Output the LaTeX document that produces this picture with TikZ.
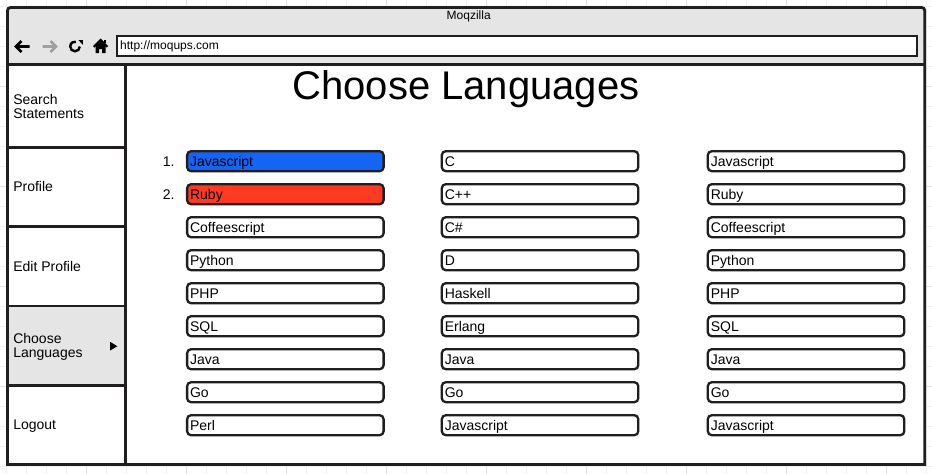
\documentclass[tikz,border=0pt]{standalone}
\usepackage{fontspec}
\setmainfont{Liberation Sans}
\usepackage{tikz}
\usetikzlibrary{arrows, positioning, calc}
\definecolor{MQgrey}{RGB}{229,229,229}
\definecolor{MQline}{RGB}{33,30,31}
\definecolor{MQblue}{RGB}{21,101,245}
\definecolor{MQred}{RGB}{255,58,34}
\definecolor{MQgrid}{RGB}{240,240,240}
\definecolor{MQgridmajor}{RGB}{226,226,226}
\definecolor{MQicon}{RGB}{160,160,160}
\newcommand{\rowgap}{33}
\newcommand{\firstrow}{161.2}
\newcommand{\fs}[1]{\fontsize{#1}{#1}\selectfont}
\tikzset{frame/.style={draw=MQline, line width=2.8pt}}
\tikzset{gridline/.style={MQgrid, line width=0.8pt}}
\tikzset{gridmajor/.style={MQgridmajor, line width=0.8pt}}
\tikzset{langbox/.style={rectangle, rounded corners=4pt, draw=MQline, line width=2.3pt, anchor=west, outer sep=0pt, text width=190.5pt, inner xsep=3pt, inner ysep=1pt, minimum height=20pt, text height=13pt, text depth=2pt, align=left, font=\fs{14}}}
\tikzset{numlabel/.style={inner sep=0pt, outer sep=0pt, font=\fs{14}}}
\tikzset{sideitem/.style={anchor=west, align=left, inner sep=0pt, outer sep=0pt, text depth=0pt, font=\fs{14}}}
\tikzset{urlbar/.style={rectangle, draw=MQline, fill=white, line width=2.4pt, anchor=west, outer sep=0pt, text width=793.5pt, inner xsep=3pt, inner ysep=1pt, minimum height=20pt, text height=9pt, text depth=2.5pt, align=left, font=\fs{12}}}
\tikzset{icon/.style={line width=2.8pt, line cap=butt, line join=miter}}

\begin{document}
\begin{tikzpicture}[x=1pt, y=-1pt, thick]
  \useasboundingbox (0,0) rectangle (932,474);

  % --- background grid ---
  \foreach \k in {6.7,26.7,...,926.7}
    \draw[gridline] (\k,0) -- (\k,474);
  \foreach \k in {6.7,26.7,...,466.7}
    \draw[gridline] (0,\k) -- (932,\k);
  \foreach \k in {86.7,186.7,...,886.7}
    \draw[gridmajor] (\k,0) -- (\k,474);
  \foreach \k in {86.7,186.7,...,386.7}
    \draw[gridmajor] (0,\k) -- (932,\k);

  % --- window ---
  \fill[white] (7.5,64.7) rectangle (924.7,464.5);
  \fill[MQgrey] (7.5,64.7) [rounded corners=3pt] -- (7.5,7.5) -- (924.7,7.5) [sharp corners] -- (924.7,64.7) -- cycle;
  \fill[MQgrey] (7.5,306) rectangle (125.2,385.8);
  \draw[frame] (7.5,464.5) [rounded corners=3pt] -- (7.5,7.5) -- (924.7,7.5) [sharp corners] -- (924.7,464.5) -- cycle;
  \draw[frame] (7.5,64.7) -- (924.7,64.7);

  \node[anchor=base, font=\fs{12}] (appname) at (468.7,19.3) {Moqzilla};

  % --- toolbar icons ---
  \draw[icon] (29.5,46.5) -- (16,46.5) (21.5,41) -- (16,46.5) -- (21.5,52);
  \draw[icon, MQicon] (42.5,46.5) -- (56,46.5) (50.5,41) -- (56,46.5) -- (50.5,52);
  \draw[line width=2.4pt] (75,46.5) ++(0:4.8) arc[start angle=0, end angle=280, radius=4.8];
  \fill (78.4,40) -- (82.8,40) -- (82.8,44.8) -- cycle;
  \draw[line width=2.2pt, line join=miter] (93.8,46.8) -- (100.6,40) -- (107.4,46.8);
  \fill (103.5,40) rectangle (105.5,43);
  \fill (95.6,46) -- (100.6,41.6) -- (105.6,46) -- (105.6,53) -- (102,53) -- (102,49.2) -- (99.2,49.2) -- (99.2,53) -- (95.6,53) -- cycle;

  \node[urlbar] (url) at (117.2,46.25) {http://moqups.com};

  % --- sidebar ---
  \draw[frame] (125.2,64.7) -- (125.2,464.5);
  \foreach \y in {147.2,226.5,306,385.8}
    \draw[frame] (7.5,\y) -- (125.2,\y);

  \node[sideitem] (search) at (13.3,106) {Search\\Statements};
  \node[sideitem] (profile) at (13.3,186.8) {Profile};
  \node[sideitem] (edit) at (13.3,266.2) {Edit Profile};
  \node[sideitem] (choose) at (13.3,345.9) {Choose\\Languages};
  \node[sideitem] (logout) at (13.3,425.1) {Logout};
  \fill (110,341.8) -- (117.4,346.2) -- (110,350.6) -- cycle;

  \node[anchor=base, font=\fs{40}] (heading) at (466,99) {Choose Languages};

  % --- first column ---
  \begin{scope}[xshift=187.1pt]
    \foreach \lang/\clr [count=\i from 0] in {Javascript/MQblue, Ruby/MQred, Coffeescript/white, Python/white, PHP/white, SQL/white, Java/white, Go/white, Perl/white}
      \node[langbox, fill=\clr] (a\i) at (0,{\firstrow+\rowgap*\i}) {\lang};
  \end{scope}
  \node[numlabel, left=12.5pt of a0] (n1) {1.};
  \node[numlabel, left=12.5pt of a1] (n2) {2.};

  % --- second column ---
  \begin{scope}[xshift=441.8pt]
    \foreach \lang [count=\i from 0] in {C, C++, C\#, D, Haskell, Erlang, Java, Go, Javascript}
      \node[langbox, fill=white] (b\i) at (0,{\firstrow+\rowgap*\i}) {\lang};
  \end{scope}

  % --- third column ---
  \begin{scope}[xshift=707.8pt]
    \foreach \lang [count=\i from 0] in {Javascript, Ruby, Coffeescript, Python, PHP, SQL, Java, Go, Javascript}
      \node[langbox, fill=white] (c\i) at (0,{\firstrow+\rowgap*\i}) {\lang};
  \end{scope}

\end{tikzpicture}
\end{document}
